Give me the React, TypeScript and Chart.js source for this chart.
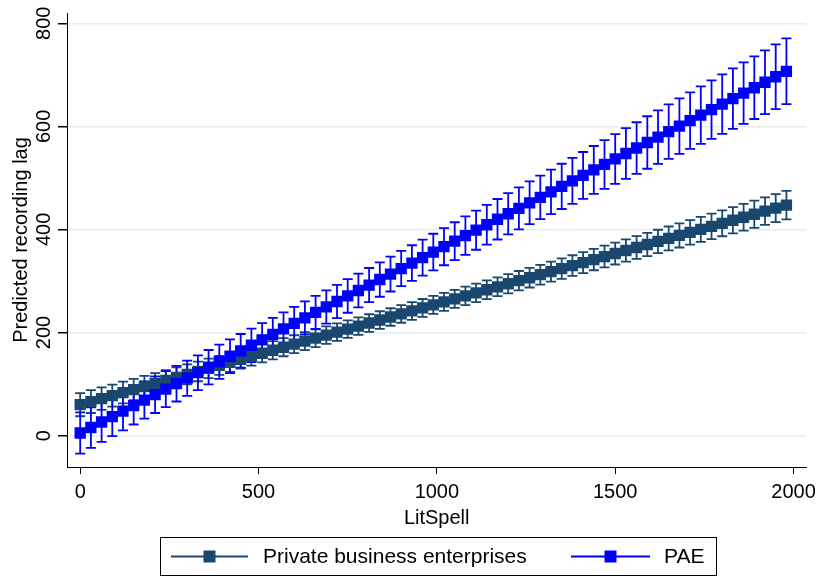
import { useEffect, useRef } from "react";
import { Chart, registerables } from "chart.js";

Chart.register(...registerables);

// ---- data ----
const litSpell = [
  0, 30, 60, 90, 120, 150, 180, 210, 240, 270,
  300, 330, 360, 390, 420, 450, 480, 510, 540, 570,
  600, 630, 660, 690, 720, 750, 780, 810, 840, 870,
  900, 930, 960, 990, 1020, 1050, 1080, 1110, 1140, 1170,
  1200, 1230, 1260, 1290, 1320, 1350, 1380, 1410, 1440, 1470,
  1500, 1530, 1560, 1590, 1620, 1650, 1680, 1710, 1740, 1770,
  1800, 1830, 1860, 1890, 1920, 1950, 1980,
];

const pbeMargin = [
  60.0, 65.9, 71.7, 77.6, 83.5, 89.3, 95.2, 101.1, 106.9, 112.8,
  118.7, 124.5, 130.4, 136.2, 142.1, 148.0, 153.8, 159.7, 165.6, 171.4,
  177.3, 183.2, 189.0, 194.9, 200.8, 206.6, 212.5, 218.4, 224.2, 230.1,
  236.0, 241.8, 247.7, 253.5, 259.4, 265.3, 271.1, 277.0, 282.9, 288.7,
  294.6, 300.5, 306.3, 312.2, 318.1, 323.9, 329.8, 335.7, 341.5, 347.4,
  353.3, 359.1, 365.0, 370.8, 376.7, 382.6, 388.4, 394.3, 400.2, 406.0,
  411.9, 417.8, 423.6, 429.5, 435.4, 441.2, 447.1,
];

const pbeHalfCI = [
  22.5, 22.1, 21.8, 21.4, 21.1, 20.8, 20.5, 20.2, 19.9, 19.6,
  19.3, 19.1, 18.8, 18.6, 18.4, 18.2, 18.0, 17.8, 17.7, 17.5,
  17.4, 17.3, 17.2, 17.1, 17.1, 17.0, 17.0, 17.0, 17.0, 17.0,
  17.1, 17.2, 17.3, 17.4, 17.5, 17.6, 17.8, 17.9, 18.1, 18.3,
  18.5, 18.8, 19.0, 19.2, 19.5, 19.8, 20.1, 20.4, 20.7, 21.0,
  21.3, 21.7, 22.0, 22.4, 22.7, 23.1, 23.5, 23.9, 24.3, 24.7,
  25.1, 25.5, 25.9, 26.3, 26.7, 27.2, 27.6,
];

const paeMargin = [
  5.0, 15.6, 26.3, 36.9, 47.5, 58.2, 68.8, 79.4, 90.1, 100.7,
  111.4, 122.0, 132.6, 143.3, 153.9, 164.5, 175.2, 185.8, 196.4, 207.1,
  217.7, 228.3, 239.0, 249.6, 260.2, 270.9, 281.5, 292.1, 302.8, 313.4,
  324.1, 334.7, 345.3, 356.0, 366.6, 377.2, 387.9, 398.5, 409.1, 419.8,
  430.4, 441.0, 451.7, 462.3, 472.9, 483.6, 494.2, 504.8, 515.5, 526.1,
  536.8, 547.4, 558.0, 568.7, 579.3, 589.9, 600.6, 611.2, 621.8, 632.5,
  643.1, 653.7, 664.4, 675.0, 685.6, 696.3, 706.9,
];

const paeHalfCI = [
  40.0, 39.3, 38.6, 37.9, 37.3, 36.7, 36.1, 35.6, 35.1, 34.6,
  34.2, 33.8, 33.4, 33.1, 32.8, 32.6, 32.4, 32.2, 32.1, 32.0,
  32.0, 32.0, 32.1, 32.2, 32.4, 32.6, 32.8, 33.1, 33.4, 33.8,
  34.2, 34.6, 35.1, 35.6, 36.1, 36.7, 37.3, 37.9, 38.6, 39.3,
  40.0, 40.7, 41.5, 42.3, 43.1, 43.9, 44.7, 45.5, 46.4, 47.3,
  48.2, 49.1, 50.0, 50.9, 51.9, 52.8, 53.8, 54.7, 55.7, 56.7,
  57.7, 58.7, 59.7, 60.7, 61.7, 62.8, 63.8,
];

const xTickValues = [0, 500, 1000, 1500, 2000];
const yTickValues = [0, 200, 400, 600, 800];
const seriesLabels = ["Private business enterprises", "PAE"];
const xTitle = "LitSpell";
const yTitle = "Predicted recording lag";

// ---- styles ----
const FONT = "'Liberation Sans', Arial, Helvetica, sans-serif";
const COLORS = ["#1a476f", "#0000ff"];
const GRID = "#e6edf1";
const CAP = 5;

const series = [
  { label: seriesLabels[0], color: COLORS[0], margin: pbeMargin, half: pbeHalfCI },
  { label: seriesLabels[1], color: COLORS[1], margin: paeMargin, half: paeHalfCI },
];

const errorBarPlugin = {
  id: "errorBars",
  beforeDatasetsDraw(chart: any) {
    const { ctx, chartArea, scales } = chart;
    const xs = scales.x;
    const ys = scales.y;
    ctx.save();
    ctx.beginPath();
    ctx.rect(chartArea.left, chartArea.top, chartArea.right - chartArea.left, chartArea.bottom - chartArea.top);
    ctx.clip();
    series.forEach((s) => {
      ctx.strokeStyle = s.color;
      ctx.lineWidth = 1.8;
      ctx.beginPath();
      litSpell.forEach((v, i) => {
        const px = xs.getPixelForValue(v);
        const lo = ys.getPixelForValue(s.margin[i] - s.half[i]);
        const hi = ys.getPixelForValue(s.margin[i] + s.half[i]);
        ctx.moveTo(px, lo);
        ctx.lineTo(px, hi);
        ctx.moveTo(px - CAP, lo);
        ctx.lineTo(px + CAP, lo);
        ctx.moveTo(px - CAP, hi);
        ctx.lineTo(px + CAP, hi);
      });
      ctx.stroke();
    });
    ctx.restore();
  },
};

const legendPlugin = {
  id: "stataLegend",
  afterDraw(chart: any) {
    const { ctx } = chart;
    ctx.save();
    const boxL = 160, boxT = 537, boxW = 556, boxH = 38;
    ctx.strokeStyle = "#000";
    ctx.lineWidth = 1;
    ctx.strokeRect(boxL + 0.5, boxT + 0.5, boxW, boxH);
    const cy = boxT + boxH / 2 + 0.5;
    const entries = [
      { x0: 171, x1: 248, text: 263 },
      { x0: 571, x1: 650, text: 664 },
    ];
    entries.forEach((e, i) => {
      const s = series[i];
      ctx.strokeStyle = s.color;
      ctx.lineWidth = 2;
      ctx.beginPath();
      ctx.moveTo(e.x0, cy);
      ctx.lineTo(e.x1, cy);
      ctx.stroke();
      ctx.fillStyle = s.color;
      const mx = (e.x0 + e.x1) / 2;
      ctx.fillRect(mx - 6, cy - 6, 12, 12);
      ctx.fillStyle = "#000";
      ctx.font = `21px ${FONT}`;
      ctx.textAlign = "left";
      ctx.textBaseline = "middle";
      ctx.fillText(s.label, e.text, cy + 1);
    });
    ctx.restore();
  },
};

export default function App() {
  const ref = useRef<HTMLCanvasElement | null>(null);

  useEffect(() => {
    if (!ref.current) return;
    const chart = new Chart(ref.current, {
      type: "line",
      data: {
        datasets: series.map((s, i) => ({
          label: s.label,
          data: litSpell.map((v, j) => ({ x: v, y: s.margin[j] })),
          borderColor: s.color,
          backgroundColor: s.color,
          borderWidth: 2,
          pointStyle: "rect",
          pointRadius: 8,
          pointBorderWidth: 0,
          pointHoverRadius: 8,
          order: i === 0 ? 1 : 0,
          tension: 0,
        })),
      },
      options: {
        animation: false,
        responsive: false,
        events: [],
        layout: { padding: { top: 13, right: 12, bottom: 46, left: 0 } },
        plugins: {
          legend: { display: false },
          tooltip: { enabled: false },
        },
        scales: {
          x: {
            type: "linear",
            min: -37,
            max: 2036,
            afterBuildTicks: (scale: any) => {
              scale.ticks = xTickValues.map((v) => ({ value: v }));
            },
            afterFit: (scale: any) => {
              scale.height = 63;
            },
            grid: { drawOnChartArea: false, drawTicks: true, tickLength: 7, color: "#000", tickColor: "#000", lineWidth: 1 },
            border: { display: true, color: "#000", width: 1 },
            ticks: {
              color: "#000",
              font: { family: FONT, size: 20 },
              padding: 6,
              maxRotation: 0,
              minRotation: 0,
              callback: (v: any) => String(v),
            },
            title: {
              display: true,
              text: xTitle,
              color: "#000",
              font: { family: FONT, size: 20 },
              padding: { top: 0, bottom: 0 },
            },
          },
          y: {
            type: "linear",
            min: -61,
            max: 820,
            afterBuildTicks: (scale: any) => {
              scale.ticks = yTickValues.map((v) => ({ value: v }));
            },
            afterFit: (scale: any) => {
              scale.width = 67;
            },
            grid: { drawOnChartArea: true, drawTicks: true, tickLength: 9, color: GRID, tickColor: "#000", lineWidth: 1.5 },
            border: { display: true, color: "#000", width: 1 },
            ticks: {
              color: "#000",
              font: { family: FONT, size: 20 },
              padding: -3,
              minRotation: 90,
              maxRotation: 90,
              crossAlign: "center",
              callback: (v: any) => String(v),
            },
            title: {
              display: true,
              text: yTitle,
              color: "#000",
              font: { family: FONT, size: 20 },
              padding: { top: 9, bottom: 0 },
            },
          },
        },
      },
      plugins: [errorBarPlugin, legendPlugin],
    } as any);
    return () => chart.destroy();
  }, []);

  return (
    <div style={{ position: "absolute", left: 0, top: 0, width: 822, height: 576, background: "#fff" }}>
      <canvas ref={ref} width={822} height={576} style={{ display: "block" }} />
    </div>
  );
}
